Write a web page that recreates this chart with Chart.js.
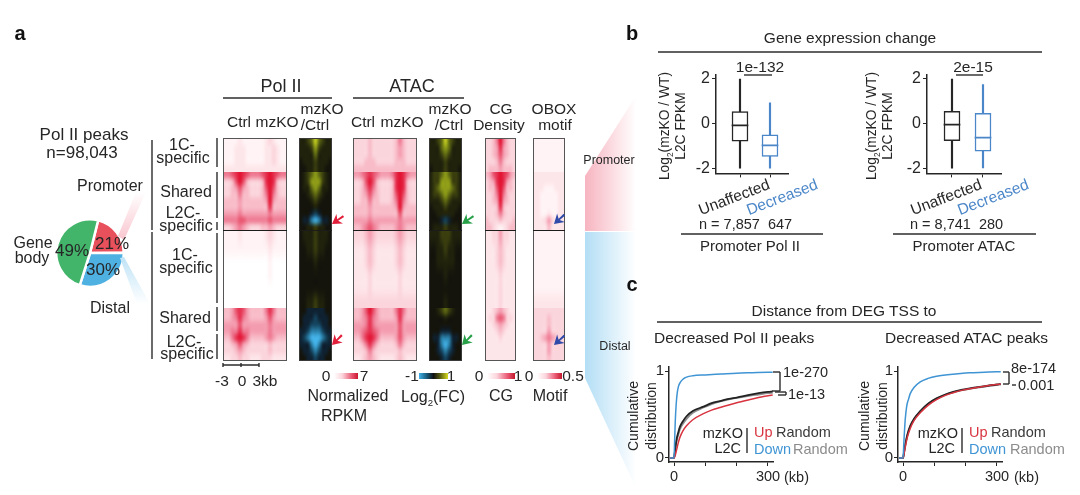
<!DOCTYPE html>
<html>
<head>
<meta charset="utf-8">
<title>Pol II peaks figure</title>
<script src="https://cdn.jsdelivr.net/npm/chart.js@4"></script>
<style>
html, body { margin: 0; padding: 0; background: #fff; }
#page { position: relative; width: 1080px; height: 495px; overflow: hidden; font-family: "Liberation Sans", Arial, sans-serif; color: #262626; }
#page canvas { position: absolute; }
#page svg { position: absolute; left: 0; top: 0; }
.lb { position: absolute; white-space: nowrap; transform: translate(-50%, -50%); line-height: 1; }
.lb sub { font-size: 0.6em; line-height: 0; }
.bar { position: absolute; height: 6px; }
</style>
</head>
<body>
<div id="page"></div>
<script>
// pie
const pieLabels = ['Promoter', 'Distal', 'Gene body'];
const pieValues = [21, 30, 49];
const pieColors = ['#e8505c', '#4fb0e2', '#43b56b'];

// boxplots: low whisker, q1, median, q3, high whisker
const boxNames = ['Unaffected', 'Decreased'];
const polBoxUnaffected = [-1.97, -0.77, -0.08, 0.53, 1.97];
const polBoxDecreased = [-1.97, -1.45, -0.96, -0.49, 0.92];
const atacBoxUnaffected = [-1.97, -0.75, -0.04, 0.54, 1.97];
const atacBoxDecreased = [-1.96, -1.22, -0.62, 0.46, 1.73];

// cumulative distance curves
const polKb = [-13, 0, 3, 8, 14, 19, 28, 40, 60, 94, 120, 147, 175, 200, 240, 270, 300, 315];
const polUpRandom = [0, 0, 0.08, 0.21, 0.3, 0.36, 0.42, 0.48, 0.54, 0.59, 0.63, 0.655, 0.68, 0.695, 0.725, 0.745, 0.76, 0.765];
const polDownRandom = [0, 0, 0.07, 0.19, 0.27, 0.33, 0.39, 0.45, 0.52, 0.58, 0.62, 0.65, 0.675, 0.69, 0.715, 0.73, 0.745, 0.75];
const polUp = [0, 0, 0.02, 0.09, 0.18, 0.24, 0.31, 0.37, 0.44, 0.51, 0.55, 0.58, 0.61, 0.635, 0.67, 0.695, 0.715, 0.725];
const polDownKb = [-13, 0, 2, 4, 7, 10, 14, 20, 30, 40, 60, 100, 150, 200, 250, 300, 315];
const polDown = [0, 0, 0.2, 0.42, 0.62, 0.74, 0.82, 0.87, 0.91, 0.93, 0.945, 0.955, 0.965, 0.975, 0.98, 0.985, 0.987];

const atacKb = [-13, 0, 3, 8, 14, 23, 35, 55, 80, 107, 135, 160, 190, 213, 250, 300, 312];
const atacUpRandom = [0, 0, 0.06, 0.17, 0.27, 0.37, 0.45, 0.54, 0.625, 0.685, 0.73, 0.76, 0.785, 0.8, 0.82, 0.845, 0.85];
const atacDownRandom = [0, 0, 0.055, 0.16, 0.26, 0.36, 0.44, 0.535, 0.62, 0.68, 0.725, 0.755, 0.78, 0.795, 0.815, 0.84, 0.845];
const atacUp = [0, 0, 0.04, 0.14, 0.24, 0.34, 0.43, 0.52, 0.605, 0.67, 0.72, 0.75, 0.78, 0.795, 0.82, 0.845, 0.85];
const atacDownKb = [-13, 0, 3, 7, 12, 18, 23, 35, 55, 80, 107, 150, 213, 260, 300, 312];
const atacDown = [0, 0, 0.2, 0.44, 0.6, 0.68, 0.74, 0.81, 0.875, 0.915, 0.94, 0.96, 0.98, 0.985, 0.99, 0.99];

// heatmap rows, digit = colour level. Blocks are 1C / Shared+L2C, top and bottom
const heatBlockRows = [5, 9, 6, 8];
const heatBlockEdges = [0, 34, 92, 170, 223];

const polIIRows = [
  '11112111111232111', '11122211111223211', '11122211111223211', '11122211111223211', '22222222222222222',
  '66789876667898766', '33479743334898433', '33457543334797433', '33446443334696433', '44445444444595444', '44445444444484444', '55556555555565555', '66667766666676666', '33456543334454333',
  '11112111111232111', '11111111111121111', '00000000000010000', '00000000000010000', '00000000000000000', '00000000000000000',
  '44578754444686444', '44568654444575444', '55557555555565555', '55668665555565555', '44689864444565444', '33457543333343333', '33345433333343333', '22334332223332222'
];
const polIIFoldRows = [
  '556797655', '555686555', '555575555', '455565554', '445565544',
  '456787654', '456888654', '455787554', '445676544', '444565444', '444454444', '444323444', '433101334', '445565544',
  '455565554', '445565544', '444454444', '444444444', '444444444', '445565544',
  '443333344', '433323334', '433222334', '332111233', '321000123', '333101333', '433212334', '443323344'
];
const atacRows = [
  '33334333333464333', '33334333333454333', '33334333333454333', '33344433333444333', '44444444444444444',
  '55678765556898655', '33479743334898433', '33468643334898433', '33457543334797433', '33446443334696433', '44445444444595444', '44445444444474444', '55556555555565555', '44567654444565444',
  '33345433333454333', '22234322222343222', '22234322222343222', '22223222222232222', '22223222222232222', '33333333333333333',
  '44579754444686444', '44568654444585444', '55568655555575555', '55678765555575555', '44689864444575444', '33468643333464333', '33346433333343333', '22345432222343222'
];
const atacFoldRows = [
  '556797655', '555787555', '555676555', '555565555', '455565554',
  '566787665', '566888665', '567888765', '566787665', '555676555', '455565554', '445555544', '444323444', '455565554',
  '555666555', '445565544', '445555544', '444454444', '444444444', '444454444',
  '445676544', '444454444', '444444444', '444333444', '433111334', '443101344', '443212344', '444323444'
];
const cgRows = [
  '334696433', '334585433', '334575433', '333464333', '344454443',
  '457898754', '345898543', '344797443', '334696433', '334595433', '333484333', '333464333', '433343334', '443212344',
  '223353322', '222343222', '222343222', '222232222', '222232222', '222232222',
  '223454322', '233676332', '223454322', '222343222', '222232222', '222222222', '222222222', '222222222'
];
const oboxRows = [
  '111111111', '111111111', '111111111', '111111111', '111111111',
  '222222222', '222222222', '222111222', '221111122', '221111122', '221111122', '221121122', '222353222', '222242222',
  '111111111', '111111111', '111111111', '111111111', '111111111', '222222222',
  '333333333', '333343333', '333343333', '333353333', '334565433', '333353333', '333353333', '333343333'
];

const pinkLevels = ['#ffffff', '#fff3f5', '#fde6ea', '#fbd5dc', '#f8bcc8', '#f49db0', '#ee7a92', '#e9556f', '#e5304f', '#e21230'];
const foldLevels = ['#45b4ea', '#2a7fa8', '#154560', '#0f2232', '#14140c', '#20220c', '#3a3e0e', '#5f6a12', '#8e9c18', '#c4ce20'];

const ink = '#262626';
const boxBlue = '#4a86c8';
const lineBlue = '#3f94d4';
const lineRed = '#d8343f';
const page = document.getElementById('page');

Chart.defaults.font.family = '"Liberation Sans", Arial, sans-serif';
Chart.defaults.color = ink;
Chart.defaults.animation = false;
Chart.defaults.responsive = false;

function addCanvas(left, top, width, height) {
  const c = document.createElement('canvas');
  c.width = width;
  c.height = height;
  c.style.left = left + 'px';
  c.style.top = top + 'px';
  c.style.width = width + 'px';
  c.style.height = height + 'px';
  page.appendChild(c);
  return c;
}

function hexRgb(hex) {
  return [1, 3, 5].map((i) => parseInt(hex.slice(i, i + 2), 16));
}

const heatCells = {
  id: 'heatCells',
  afterDraw(chart, args, opts) {
    const { ctx, scales: { x, y } } = chart;
    const cols = opts.rows[0].length;
    const left = x.getPixelForValue(0);
    const right = x.getPixelForValue(cols);
    let start = 0;
    heatBlockRows.forEach((count, b) => {
      const off = document.createElement('canvas');
      off.width = cols;
      off.height = count;
      const octx = off.getContext('2d');
      const img = octx.createImageData(cols, count);
      for (let r = 0; r < count; r++) {
        for (let c = 0; c < cols; c++) {
          const rgb = hexRgb(opts.levels[Number(opts.rows[start + r][c])]);
          const at = (r * cols + c) * 4;
          img.data[at] = rgb[0];
          img.data[at + 1] = rgb[1];
          img.data[at + 2] = rgb[2];
          img.data[at + 3] = 255;
        }
      }
      octx.putImageData(img, 0, 0);
      const top = y.getPixelForValue(heatBlockEdges[b]);
      const bottom = y.getPixelForValue(heatBlockEdges[b + 1]);
      ctx.imageSmoothingEnabled = true;
      ctx.imageSmoothingQuality = 'high';
      ctx.drawImage(off, left, top, right - left, bottom - top);
      start += count;
    });
    ctx.strokeStyle = opts.frame;
    ctx.lineWidth = 1;
    ctx.strokeRect(left + 0.5, y.getPixelForValue(0) + 0.5, right - left - 1, y.getPixelForValue(223) - y.getPixelForValue(0) - 1);
    const mid = Math.round(y.getPixelForValue(heatBlockEdges[2])) + 0.5;
    ctx.strokeStyle = '#1c1c1c';
    ctx.beginPath();
    ctx.moveTo(left, mid);
    ctx.lineTo(right, mid);
    ctx.stroke();
  },
};

function heatmap(left, width, rows, levels, frame) {
  const canvas = addCanvas(left, 138, width, 223);
  new Chart(canvas, {
    type: 'scatter',
    data: { datasets: [] },
    plugins: [heatCells],
    options: {
      layout: { padding: 0 },
      plugins: { legend: { display: false }, tooltip: { enabled: false }, heatCells: { rows, levels, frame } },
      scales: {
        x: { type: 'linear', min: 0, max: rows[0].length, display: false },
        y: { type: 'linear', min: 0, max: 223, reverse: true, display: false },
      },
    },
  });
}

heatmap(223, 64, polIIRows, pinkLevels, '#555');
heatmap(299, 33, polIIFoldRows, foldLevels, '#3a3a3a');
heatmap(353, 64, atacRows, pinkLevels, '#555');
heatmap(429, 33, atacFoldRows, foldLevels, '#3a3a3a');
heatmap(485, 31, cgRows, pinkLevels, '#555');
heatmap(533, 32, oboxRows, pinkLevels, '#555');

// pie
new Chart(addCanvas(55, 218, 70, 70), {
  type: 'pie',
  data: {
    labels: pieLabels,
    datasets: [{ data: pieValues, backgroundColor: pieColors, borderColor: '#fff', borderWidth: 2.5 }],
  },
  options: {
    rotation: 14,
    layout: { padding: 0 },
    plugins: { legend: { display: false }, tooltip: { enabled: false } },
  },
});

function boxChart(axisX, unitPx, first, second) {
  const stats = [first, second];
  const colors = [ink, boxBlue];
  const xs = [1, 2];
  const axisWidth = unitPx === 30 ? 72 : 74;
  const canvas = addCanvas(axisX - 30, 63, 30 + axisWidth + 2, 122);
  const at = (pick) => xs.map((x, i) => ({ x, y: pick(stats[i]) }));
  new Chart(canvas, {
    type: 'bar',
    data: {
      datasets: [
        { label: 'median', data: at((s) => [s[2] - 0.025, s[2] + 0.025]), backgroundColor: colors, barThickness: 16, grouped: false, order: 1 },
        { label: 'box', data: at((s) => [s[1], s[3]]), backgroundColor: '#fff', borderColor: colors, borderWidth: 1.5, borderSkipped: false, barThickness: 16, grouped: false, order: 2 },
        { label: 'whisker', data: at((s) => [s[0], s[4]]), backgroundColor: colors, barThickness: 1.5, grouped: false, order: 3 },
      ],
    },
    options: {
      layout: { padding: { top: 10, right: 2, left: 0, bottom: 0 } },
      plugins: { legend: { display: false }, tooltip: { enabled: false } },
      scales: {
        x: {
          type: 'linear',
          offset: false,
          min: 1 - (first === polBoxUnaffected ? 24 : 25) / unitPx,
          max: 1 - (first === polBoxUnaffected ? 24 : 25) / unitPx + axisWidth / unitPx,
          afterBuildTicks: (s) => { s.ticks = xs.map((value) => ({ value })); },
          afterFit: (s) => { s.height = 8; },
          grid: { drawOnChartArea: false, offset: false, tickLength: 4, color: ink, tickWidth: 1 },
          border: { color: ink, width: 1.5 },
          ticks: { display: false },
        },
        y: {
          min: -2.2,
          max: 2.17,
          afterBuildTicks: (s) => { s.ticks = [-2, 0, 2].map((value) => ({ value })); },
          afterFit: (s) => { s.width = 30; },
          grid: { drawOnChartArea: false, tickLength: 4, color: ink, tickWidth: 1 },
          border: { color: ink, width: 1.5 },
          ticks: { font: { size: 16 }, color: ink, padding: 2 },
        },
      },
    },
  });
}

boxChart(716, 30, polBoxUnaffected, polBoxDecreased);
boxChart(927, 31, atacBoxUnaffected, atacBoxDecreased);

function curveChart(axisX, curves) {
  const canvas = addCanvas(axisX - 25, 357, 25 + 104 + 24, 131);
  new Chart(canvas, {
    type: 'line',
    data: {
      datasets: curves.map((c, i) => ({
        data: c.kb.map((x, k) => ({ x, y: c.values[k] })),
        borderColor: c.color,
        borderWidth: c.width,
        pointRadius: 0,
        cubicInterpolationMode: 'monotone',
        order: i,
      })),
    },
    options: {
      layout: { padding: { top: 10, right: 24, left: 0, bottom: 0 } },
      plugins: { legend: { display: false }, tooltip: { enabled: false } },
      scales: {
        x: {
          type: 'linear',
          min: -16,
          max: 316,
          afterBuildTicks: (s) => { s.ticks = [0, 100, 200, 300].map((value) => ({ value })); },
          afterFit: (s) => { s.height = 26; },
          grid: { drawOnChartArea: false, tickLength: 4, color: ink },
          border: { color: ink, width: 1.5 },
          ticks: {
            font: { size: 14.5 },
            color: ink,
            autoSkip: false,
            maxRotation: 0,
            padding: 2,
            callback: (v) => (v === 0 || v === 300 ? String(v) : ''),
          },
        },
        y: {
          min: -0.046,
          max: 1.046,
          afterBuildTicks: (s) => { s.ticks = [0, 1].map((value) => ({ value })); },
          afterFit: (s) => { s.width = 25; },
          grid: { drawOnChartArea: false, tickLength: 4, color: ink },
          border: { color: ink, width: 1.5 },
          ticks: { font: { size: 15 }, color: ink, padding: 1 },
        },
      },
    },
  });
}

curveChart(669, [
  { kb: polDownKb, values: polDown, color: lineBlue, width: 1.5 },
  { kb: polKb, values: polUp, color: lineRed, width: 1.5 },
  { kb: polKb, values: polUpRandom, color: '#222', width: 1.8 },
  { kb: polKb, values: polDownRandom, color: '#8c8c8c', width: 1.8 },
]);
curveChart(898, [
  { kb: atacDownKb, values: atacDown, color: lineBlue, width: 1.5 },
  { kb: atacKb, values: atacUp, color: lineRed, width: 1.5 },
  { kb: atacKb, values: atacUpRandom, color: '#222', width: 1.8 },
  { kb: atacKb, values: atacDownRandom, color: '#8c8c8c', width: 1.8 },
]);

// funnels, rules, arrows
const rules = [
  [223, 98, 332, 98], [353, 98, 464, 98],
  [152, 140, 152, 230], [152, 232, 152, 359],
  [217, 138, 217, 167], [217, 172, 217, 218], [217, 222, 217, 230], [217, 233, 217, 303], [217, 307, 217, 331], [217, 334, 217, 359],
  [223, 365, 259, 365], [223, 363, 223, 367], [241, 363, 241, 367], [259, 363, 259, 367],
  [658, 52, 1042, 52], [681, 234, 823, 234], [893, 234, 1036, 234],
  [744, 75, 772, 75], [956, 75, 983, 75],
  [657, 322, 1042, 322],
  [747, 428, 747, 453], [962, 428, 962, 453],
  [773, 372, 780, 372], [780, 372, 780, 391], [772, 391, 780, 391], [775, 392, 786, 392], [786, 392, 786, 395], [778, 395, 786, 395],
  [1003, 372, 1009, 372], [1009, 372, 1009, 384], [1003, 384, 1009, 384], [1012, 385, 1016, 385],
];
const arrows = [
  ['#e21f3a', 332, 224, 345, 215], ['#27a048', 462, 224, 475, 215], ['#2f4aa8', 554, 224, 564, 215],
  ['#e21f3a', 332, 345, 341, 336], ['#27a048', 462, 345, 471, 336], ['#2f4aa8', 554, 345, 564, 336],
];
let svg = '<svg width="1080" height="495" xmlns="http://www.w3.org/2000/svg"><defs>'
  + '<linearGradient id="fr" x1="0" x2="1" y1="0" y2="0"><stop offset="0" stop-color="#f7b4c0"/><stop offset="1" stop-color="#fff"/></linearGradient>'
  + '<linearGradient id="fb" x1="0" x2="1" y1="0" y2="0"><stop offset="0" stop-color="#b3def5"/><stop offset="1" stop-color="#fff"/></linearGradient>'
  + '<linearGradient id="pr" x1="0" x2="0" y1="1" y2="0"><stop offset="0" stop-color="#f9c6cf"/><stop offset="1" stop-color="#fff"/></linearGradient>'
  + '<linearGradient id="pb" x1="0" x2="0" y1="0" y2="1"><stop offset="0" stop-color="#bfe3f6"/><stop offset="1" stop-color="#fff"/></linearGradient>'
  + '</defs>'
  + '<polygon points="585,176 585,231 636,231 636,96" fill="url(#fr)"/>'
  + '<polygon points="585,232 585,378 636,488 636,232" fill="url(#fb)"/>'
  + '<polygon points="118,236 136,192 146,192 124,240" fill="url(#pr)"/>'
  + '<polygon points="120,258 124,257 150,304 137,304" fill="url(#pb)"/>';
rules.forEach((r) => {
  svg += `<line x1="${r[0]}" y1="${r[1]}" x2="${r[2]}" y2="${r[3]}" stroke="#2c2c2c" stroke-width="1.4"/>`;
});
arrows.forEach(([color, x1, y1, x2, y2]) => {
  const a = Math.atan2(y2 - y1, x2 - x1);
  const p = (d, t) => `${x1 + d * Math.cos(a + t)},${y1 + d * Math.sin(a + t)}`;
  svg += `<polygon points="${x1},${y1} ${p(11, 0.55)} ${p(7, 0.12)} ${p(14, 0.08)} ${p(14, -0.08)} ${p(7, -0.12)} ${p(11, -0.55)}" fill="${color}"/>`;
});
svg += '</svg>';
page.insertAdjacentHTML('beforeend', svg);

// colour keys
const keys = [
  [334, 24, 'linear-gradient(90deg,#fff,#fbd5dc 35%,#e9556f 75%,#c9182e)'],
  [419, 29, 'linear-gradient(90deg,#3fb0e8,#14506e 30%,#111 50%,#555a10 72%,#d8dc20)'],
  [487, 28, 'linear-gradient(90deg,#fff,#fbd5dc 35%,#e9556f 75%,#c01a2c)'],
  [537, 25, 'linear-gradient(90deg,#fff,#fbd5dc 35%,#e9556f 75%,#c01a2c)'],
];
keys.forEach(([left, width, bg]) => {
  const d = document.createElement('div');
  d.className = 'bar';
  d.style.left = left + 'px';
  d.style.top = '373px';
  d.style.width = width + 'px';
  d.style.background = bg;
  page.appendChild(d);
});

function label(html, x, y, size, extra) {
  const s = document.createElement('span');
  s.className = 'lb';
  s.innerHTML = html;
  s.style.left = x + 'px';
  s.style.top = y + 'px';
  s.style.fontSize = size + 'px';
  Object.assign(s.style, extra || {});
  page.appendChild(s);
  return s;
}
function labelLeft(html, x, y, size, color) {
  label(html, x, y, size, { transform: 'translate(0,-50%)', color: color || ink });
}
function labelRight(html, x, y, size) {
  label(html, x, y, size, { transform: 'translate(-100%,-50%)' });
}
function vertical(html, x, y, size) {
  label(html, x, y, size, { transform: 'translate(-50%,-50%) rotate(-90deg)' });
}
function slanted(html, x, y, color) {
  label(html, x, y, 15.5, { transform: 'translate(-50%,-50%) rotate(-21deg)', color });
}

// panel letters
label('a', 20, 33, 20, { fontWeight: 'bold', color: '#111' });
label('b', 632, 33, 20, { fontWeight: 'bold', color: '#111' });
label('c', 632, 284, 20, { fontWeight: 'bold', color: '#111' });

// panel a, left side
label('Pol II peaks', 84, 134, 17);
label('n=98,043', 82, 152, 17);
label('Promoter', 110, 186, 16);
label('Gene', 33, 243, 16);
label('body', 32, 258, 16);
label('Distal', 110, 308, 16);
label('49%', 72, 250, 17);
label('21%', 112, 243, 17);
label('30%', 103, 269, 17);

label('1C-', 182, 145, 16);
label('specific', 183, 158, 16);
label('Shared', 186, 192, 16);
label('L2C-', 183, 213, 16);
label('specific', 186, 226, 16);
label('1C-', 185, 255, 16);
label('specific', 186, 268, 16);
label('Shared', 185, 318, 16);
label('L2C-', 184, 342, 16);
label('specific', 187, 354, 16);

// heatmap headers
label('Pol II', 281, 86, 18);
label('ATAC', 412, 86, 18);
label('Ctrl', 239, 122, 15.5);
label('mzKO', 277, 122, 15.5);
label('mzKO', 322, 109, 15.5);
label('/Ctrl', 315, 125, 15.5);
label('Ctrl', 363, 122, 15.5);
label('mzKO', 402, 122, 15.5);
label('mzKO', 450, 109, 15.5);
label('/Ctrl', 449, 125, 15.5);
label('CG', 501, 109, 15.5);
label('Density', 499, 125, 15.5);
label('OBOX', 554, 109, 15.5);
label('motif', 555, 125, 15.5);

// heatmap footers
label('-3', 222, 381, 15.5);
label('0', 242, 381, 15.5);
label('3kb', 265, 381, 15.5);
label('0', 326, 376, 15.5);
label('7', 364, 376, 15.5);
label('-1', 412, 376, 15.5);
label('1', 451, 376, 15.5);
label('0', 479, 376, 15.5);
label('1', 518, 376, 15.5);
label('0', 529, 376, 15.5);
label('0.5', 573, 376, 15.5);
label('Normalized', 348, 396, 16);
label('RPKM', 344, 416, 16);
label('Log<sub>2</sub>(FC)', 433, 397, 16);
label('CG', 501, 396, 16);
label('Motif', 550, 396, 16);

label('Promoter', 609, 160, 12.5);
label('Distal', 615, 346, 12.5);

// panel b
label('Gene expression change', 850, 38, 15.5);
label('1e-132', 760, 67, 15.5);
label('2e-15', 973, 67, 15.5);
vertical('Log<sub>2</sub>(mzKO / WT)', 665, 126, 13.8);
vertical('L2C FPKM', 681, 126, 13.8);
vertical('Log<sub>2</sub>(mzKO / WT)', 872, 126, 13.8);
vertical('L2C FPKM', 888, 126, 13.8);
slanted(boxNames[0], 734, 197, ink);
slanted(boxNames[1], 782, 197, boxBlue);
slanted(boxNames[0], 946, 197, ink);
slanted(boxNames[1], 993, 197, boxBlue);
labelLeft('n = 7,857&nbsp; 647', 699, 224, 14.5);
labelLeft('n = 8,741&nbsp; 280', 910, 224, 14.5);
label('Promoter Pol II', 750, 245, 15);
label('Promoter ATAC', 964, 245, 15);

// panel c
label('Distance from DEG TSS to', 844, 311, 15.5);
labelLeft('Decreased Pol II peaks', 654, 338, 15.5);
labelLeft('Decreased ATAC peaks', 885, 338, 15.5);
vertical('Cumulative', 633, 416, 14);
vertical('distribution', 651, 416, 14);
vertical('Cumulative', 864, 416, 14);
vertical('distribution', 882, 416, 14);
labelLeft('(kb)', 784, 477, 14.5);
labelLeft('(kb)', 1014, 477, 14.5);
labelLeft('1e-270', 783, 372, 14.5);
labelLeft('1e-13', 788, 394, 14.5);
labelLeft('8e-174', 1011, 368, 14.5);
labelLeft('0.001', 1018, 385, 14.5);

labelRight('mzKO', 743, 433, 14.5);
labelRight('L2C', 741, 448, 14.5);
labelLeft('Up', 754, 432, 14.5, lineRed);
labelLeft('Random', 776, 432, 14.5, '#3a3a3a');
labelLeft('Down', 754, 449, 14.5, lineBlue);
labelLeft('Random', 793, 449, 14.5, '#8c8c8c');
labelRight('mzKO', 958, 433, 14.5);
labelRight('L2C', 955, 448, 14.5);
labelLeft('Up', 969, 432, 14.5, lineRed);
labelLeft('Random', 991, 432, 14.5, '#3a3a3a');
labelLeft('Down', 969, 449, 14.5, lineBlue);
labelLeft('Random', 1010, 449, 14.5, '#8c8c8c');
</script>
</body>
</html>
